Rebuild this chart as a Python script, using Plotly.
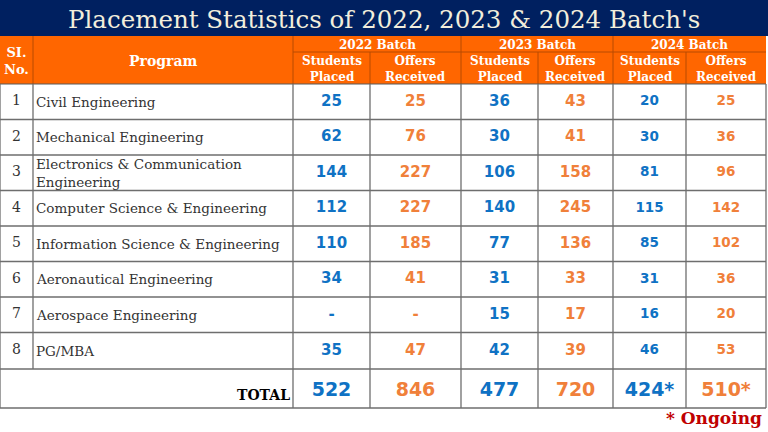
import plotly.graph_objects as go

# ---------------- data ----------------
title = "Placement Statistics of 2022, 2023 & 2024 Batch's"
sl_no = ["1", "2", "3", "4", "5", "6", "7", "8"]
programs = [
    "Civil Engineering",
    "Mechanical Engineering",
    "Electronics & Communication<br>Engineering",
    "Computer Science & Engineering",
    "Information Science & Engineering",
    "Aeronautical Engineering",
    "Aerospace Engineering",
    "PG/MBA",
]
batches = ["2022 Batch", "2023 Batch", "2024 Batch"]
sub_headers = ["Students<br>Placed", "Offers<br>Received"]
students_2022 = [25, 62, 144, 112, 110, 34, None, 35]
offers_2022 = [25, 76, 227, 227, 185, 41, None, 47]
students_2023 = [36, 30, 106, 140, 77, 31, 15, 42]
offers_2023 = [43, 41, 158, 245, 136, 33, 17, 39]
students_2024 = [20, 30, 81, 115, 85, 31, 16, 46]
offers_2024 = [25, 36, 96, 142, 102, 36, 20, 53]
totals = ["522", "846", "477", "720", "424*", "510*"]
footnote = "* Ongoing"

# ---------------- layout constants ----------------
W, H = 768, 432
NAVY = "#002060"
ORANGE_HDR = "#FF6600"
HDR_LINE = "#B84A00"
BLUE = "#0F72C4"
ORANGE_TXT = "#F0803A"
GRID = "#6E6E6E"
TEXT = "#333333"
SERIF = "DejaVu Serif"
SANS = "DejaVu Sans"

col_edges = [0, 33, 293, 370, 461, 538, 613, 686, 766]
title_bottom = 36
hdr_mid = 52
hdr_bottom = 84
row_edges = [84, 119.5, 155, 190.5, 226, 261.5, 297, 332.5, 369, 408]

fig = go.Figure()
shapes = []


def rect(x0, y0, x1, y1, color):
    shapes.append(dict(type="rect", xref="x", yref="y", x0=x0, y0=y0, x1=x1, y1=y1,
                       fillcolor=color, line=dict(width=0), layer="below"))


def line(x0, y0, x1, y1, color, w=1):
    shapes.append(dict(type="line", xref="x", yref="y", x0=x0, y0=y0, x1=x1, y1=y1,
                       line=dict(color=color, width=w), layer="above"))


# backgrounds
rect(0, 0, W, title_bottom, NAVY)
rect(0, title_bottom, col_edges[-1], hdr_bottom, ORANGE_HDR)

# header lines
line(col_edges[2], hdr_mid, col_edges[-1], hdr_mid, HDR_LINE)
for i, x in enumerate(col_edges[1:-1], start=1):
    if i in (1, 2, 4, 6):
        line(x, title_bottom, x, hdr_bottom, HDR_LINE)
    else:
        line(x, hdr_mid, x, hdr_bottom, HDR_LINE)
line(0, hdr_bottom, col_edges[-1], hdr_bottom, "#5a5a5a", 1.2)

# body grid
for y in row_edges[1:]:
    line(0, y, col_edges[-1], y, GRID, 1.3)
for i, x in enumerate(col_edges):
    if i == 1:
        line(x, hdr_bottom, x, row_edges[-2], GRID, 1.3)
    else:
        line(x, hdr_bottom, x, row_edges[-1], GRID, 1.3)

annotations = []


def ann(x, y, text, size, color, family=SERIF, xanchor="center", align="center"):
    annotations.append(dict(x=x, y=y, xref="x", yref="y", text=text, showarrow=False,
                            xanchor=xanchor, yanchor="middle", align=align,
                            font=dict(family=family, size=size, color=color)))


# title
ann(W / 2, 19, title, 24.5, "#F2EEDC")

# header texts
ann((col_edges[0] + col_edges[1]) / 2, 61, "<b>SI.<br>No.</b>", 13, "white")
ann((col_edges[1] + col_edges[2]) / 2, 61, "<b>Program</b>", 14, "white")
for b, name in enumerate(batches):
    xa, xb = col_edges[2 + 2 * b], col_edges[4 + 2 * b]
    ann((xa + xb) / 2, 44.5, "<b>" + name + "</b>", 12, "white")
    for s in range(2):
        xc = (col_edges[2 + 2 * b + s] + col_edges[3 + 2 * b + s]) / 2
        ann(xc, 68.5, "<b>" + sub_headers[s] + "</b>", 12, "white")

row_centers = [(row_edges[i] + row_edges[i + 1]) / 2 for i in range(8)]

# sl no & program names
fig.add_trace(go.Scatter(
    x=[(col_edges[0] + col_edges[1]) / 2] * 8, y=row_centers, text=sl_no, mode="text",
    textposition="middle center", textfont=dict(family=SERIF, size=14, color=TEXT),
    hoverinfo="skip", showlegend=False))
for yc, p in zip(row_centers, programs):
    ann(col_edges[1] + 1, yc, p, 13.5, TEXT, xanchor="left", align="left")

# numeric columns
series = [students_2022, offers_2022, students_2023, offers_2023, students_2024, offers_2024]
for k, vals in enumerate(series):
    xc = (col_edges[2 + k] + col_edges[3 + k]) / 2
    color = BLUE if k % 2 == 0 else ORANGE_TXT
    size = 15 if k < 4 else 13.5
    fig.add_trace(go.Scatter(
        x=[xc] * len(vals), y=row_centers,
        text=["<b>-</b>" if v is None else "<b>%d</b>" % v for v in vals],
        mode="text", textposition="middle center",
        textfont=dict(family=SANS, size=size, color=color),
        hoverinfo="skip", showlegend=False))

# totals
total_y = (row_edges[-2] + row_edges[-1]) / 2
fig.add_trace(go.Scatter(
    x=[(col_edges[2 + k] + col_edges[3 + k]) / 2 for k in range(6)], y=[total_y + 2.5] * 6,
    text=["<b>" + t + "</b>" for t in totals], mode="text", textposition="middle center",
    textfont=dict(family=SANS, size=19, color=[BLUE if k % 2 == 0 else ORANGE_TXT for k in range(6)]),
    hoverinfo="skip", showlegend=False))
ann(col_edges[2] - 1, total_y + 6, "<b>TOTAL</b>", 14, "black", xanchor="right")

# footnote
ann(764, 418, "<b>" + footnote + "</b>", 17, "#C00000", xanchor="right")

fig.update_layout(
    width=W, height=H, margin=dict(l=0, r=0, t=0, b=0),
    paper_bgcolor="white", plot_bgcolor="white",
    xaxis=dict(range=[0, W], visible=False, fixedrange=True),
    yaxis=dict(range=[H, 0], visible=False, fixedrange=True),
    shapes=shapes, annotations=annotations, showlegend=False,
)

fig.write_html("out.html", config={"displayModeBar": False},
               post_script="document.body.style.margin='0';document.body.style.overflow='hidden';")
